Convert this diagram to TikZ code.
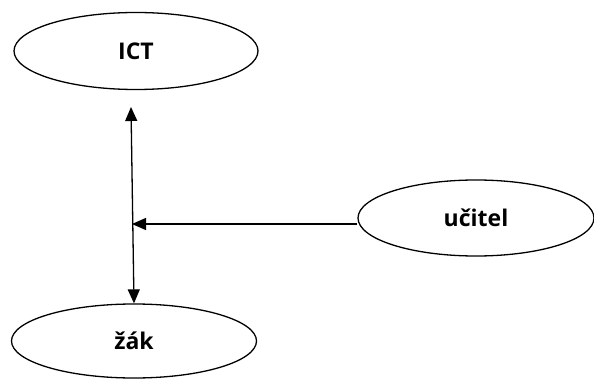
\documentclass[tikz,border=0pt]{standalone}
\usepackage{fontspec}
\setmainfont{Open Sans}
\usetikzlibrary{calc,arrows.meta,shapes.geometric}

\begin{document}
\begin{tikzpicture}[x=1pt,y=1pt,
		role/.style={draw, ellipse, line width=1.3pt, inner sep=0pt, font=\fontsize{23}{27}\selectfont\bfseries},
		link/.style={line width=1.3pt, -{Triangle[length=14pt,width=12pt]}}]
			\useasboundingbox (0,0) rectangle (594,378);
			\node[role, minimum width=244, minimum height=77] (ict) at (136,327) {ICT};
			\node[role, minimum width=236, minimum height=76] (ucitel) at (476,160) {učitel};
			\node[role, minimum width=245, minimum height=74] (zak) at (134,37) {žák};
			\coordinate (top) at (131,271);
			\coordinate (hub) at (132,154);
			\draw[link, {Triangle[length=14pt,width=12pt]}-{Triangle[length=14pt,width=12pt]}] (top)--(zak.north);
			\draw[link] (hub -| ucitel.west)--(hub);
			
		\end{tikzpicture}
\end{document}
